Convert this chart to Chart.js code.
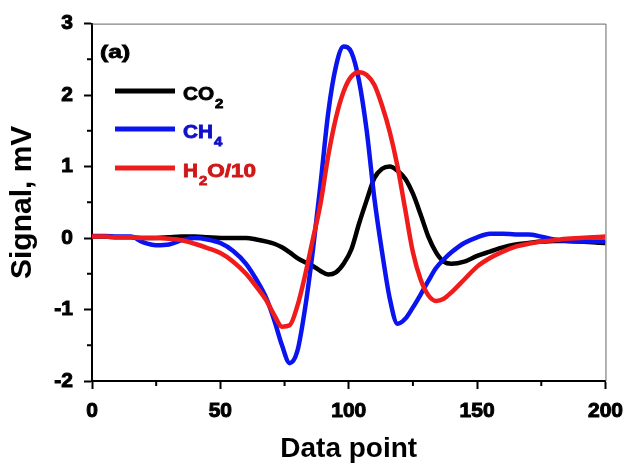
<!DOCTYPE html>
<html>
<head>
<meta charset="utf-8">
<script src="https://cdn.jsdelivr.net/npm/chart.js@4/dist/chart.umd.min.js"></script>
<style>
  html, body { margin: 0; padding: 0; background: #fff; }
  #wrap { width: 633px; height: 468px; }
</style>
</head>
<body>
<div id="wrap"><canvas id="chart" width="633" height="468"></canvas></div>
<script>
// data points (x = data point index)
const dataPoints = [0, 5, 10, 15, 20, 25, 30, 35, 40, 45, 50, 55, 60, 64, 68, 71, 74, 77, 80, 83,
  86, 89, 92, 95, 98, 101, 104, 107, 110, 113, 116, 119, 122, 125, 128, 131, 134, 137, 140, 145,
  150, 155, 160, 165, 170, 175, 180, 185, 190, 195, 200];

const co2 = [0.02, 0.02, 0.01, 0.01, 0.0, 0.0, 0.01, 0.02, 0.02, 0.01, 0.0, 0.0, 0.0, -0.02, -0.05,
  -0.08, -0.13, -0.2, -0.28, -0.34, -0.39, -0.46, -0.51, -0.48, -0.36, -0.16, 0.2, 0.53, 0.84, 0.97,
  1.0, 0.94, 0.83, 0.62, 0.33, 0.02, -0.2, -0.33, -0.36, -0.33, -0.25, -0.19, -0.13, -0.09, -0.07,
  -0.05, -0.04, -0.04, -0.05, -0.06, -0.07];

const ch4 = [0.03, 0.03, 0.02, 0.02, -0.06, -0.1, -0.09, -0.03, 0.0, -0.02, -0.07, -0.18, -0.36,
  -0.58, -0.85, -1.15, -1.5, -1.75, -1.58, -0.98, -0.18, 0.75, 1.75, 2.4, 2.68, 2.6, 2.2, 1.5, 0.55,
  -0.2, -0.85, -1.2, -1.13, -0.97, -0.79, -0.6, -0.42, -0.3, -0.2, -0.07, 0.01, 0.06, 0.06, 0.05,
  0.05, 0.02, -0.02, -0.04, -0.05, -0.05, -0.05];

const h2o = [0.02, 0.02, 0.01, 0.01, 0.0, 0.0, -0.01, -0.03, -0.08, -0.14, -0.21, -0.33, -0.5,
  -0.68, -0.88, -1.08, -1.24, -1.22, -0.95, -0.52, -0.02, 0.48, 1.15, 1.68, 2.05, 2.26, 2.32, 2.28,
  2.14, 1.85, 1.48, 1.0, 0.4, -0.2, -0.58, -0.8, -0.88, -0.85, -0.76, -0.58, -0.4, -0.28, -0.19,
  -0.12, -0.08, -0.05, -0.03, -0.01, 0.0, 0.01, 0.02];

const seriesNames = [["CO", "2", ""], ["CH", "4", ""], ["H", "2", "O/10"]];
const seriesColors = ["#000000", "#0a14ee", "#f01c1c"];
const textColors = ["#000000", "#1010c8", "#d01818"];
const panelLabel = "(a)";

const FONT = "'Liberation Sans', Arial, sans-serif";

function pts(ys) {
  return dataPoints.map((x, i) => ({ x: x, y: ys[i] }));
}

// wide heavy text, drawn with a horizontal stretch
function wideText(ctx, text, x, y, size, sx) {
  ctx.save();
  ctx.font = "bold " + size + "px " + FONT;
  ctx.translate(x, y);
  ctx.scale(sx, 1);
  ctx.strokeStyle = ctx.fillStyle;
  ctx.lineWidth = 0.8;
  ctx.fillText(text, 0, 0);
  ctx.strokeText(text, 0, 0);
  const w = ctx.measureText(text).width * sx;
  ctx.restore();
  return w;
}

// frame, minor ticks and the in-plot legend
const frameAndLegend = {
  id: "frameAndLegend",
  afterDraw(chart) {
    const { ctx, chartArea: a } = chart;
    const xs = chart.scales.x, ys = chart.scales.y;
    ctx.save();
    ctx.strokeStyle = "#666";
    ctx.lineWidth = 1;
    ctx.beginPath();
    ctx.moveTo(a.left, a.top + 0.5);
    ctx.lineTo(a.right + 0.5, a.top + 0.5);
    ctx.lineTo(a.right + 0.5, a.bottom);
    ctx.stroke();

    // short minor ticks
    ctx.strokeStyle = "#000";
    ctx.lineWidth = 2;
    ctx.beginPath();
    xs.ticks.forEach(t => {
      if (t.value % 50 !== 0) {
        const px = xs.getPixelForValue(t.value);
        ctx.moveTo(px, a.bottom);
        ctx.lineTo(px, a.bottom + 5);
      }
    });
    ys.ticks.forEach(t => {
      if (!Number.isInteger(t.value)) {
        const py = ys.getPixelForValue(t.value);
        ctx.moveTo(a.left, py);
        ctx.lineTo(a.left - 5, py);
      }
    });
    ctx.stroke();

    ctx.fillStyle = "#000";
    ctx.textBaseline = "alphabetic";
    wideText(ctx, panelLabel, 100, 58, 19, 1.3);

    const rows = [91, 129, 168];
    rows.forEach((y, i) => {
      ctx.strokeStyle = seriesColors[i];
      ctx.lineWidth = 5;
      ctx.lineCap = "butt";
      ctx.beginPath();
      ctx.moveTo(115, y);
      ctx.lineTo(175, y);
      ctx.stroke();

      const [main, sub, rest] = seriesNames[i];
      ctx.fillStyle = textColors[i];
      let x = 183;
      x += wideText(ctx, main, x, y + 9, 18, 1.15);
      x += wideText(ctx, sub, x + 1, y + 17, 13, 1.15) + 1;
      if (rest) wideText(ctx, rest, x, y + 9, 18, 1.25);
    });
    ctx.restore();
  }
};

const datasets = [co2, ch4, h2o].map((ys, i) => ({
  label: seriesNames[i].join(""),
  data: pts(ys),
  borderColor: seriesColors[i],
  borderWidth: 4.5,
  pointRadius: 0,
  tension: 0.4,
  cubicInterpolationMode: "monotone",
  fill: false,
  order: 3 - i
}));

const majorTickColor = (isMajor) => (ctx) => (ctx.tick && isMajor(ctx.tick.value) ? "#000" : "rgba(0,0,0,0)");

new Chart(document.getElementById("chart"), {
  type: "line",
  data: { datasets: datasets },
  options: {
    responsive: false,
    animation: false,
    layout: { padding: { left: 0, top: 22, right: 26, bottom: 0 } },
    plugins: { legend: { display: false }, tooltip: { enabled: false } },
    scales: {
      x: {
        type: "linear",
        min: 0,
        max: 200,
        afterFit(scale) { scale.height = 87; },
        ticks: {
          stepSize: 25,
          autoSkip: false,
          maxRotation: 0,
          color: "#000",
          textStrokeColor: "#000",
          textStrokeWidth: 1,
          padding: 10,
          font: { family: FONT, size: 21, weight: "bold" },
          callback: v => (v % 50 === 0 ? v : "")
        },
        grid: {
          drawOnChartArea: false, drawTicks: true, tickLength: 8, tickWidth: 2,
          tickColor: majorTickColor(v => v % 50 === 0)
        },
        border: { color: "#000", width: 2 },
        title: {
          display: true,
          text: "Data point",
          color: "#000",
          font: { family: FONT, size: 28, weight: "bold" },
          padding: { top: 0, bottom: 2 }
        }
      },
      y: {
        min: -2,
        max: 3,
        afterFit(scale) { scale.width = 92; },
        ticks: {
          stepSize: 0.5,
          autoSkip: false,
          color: "#000",
          textStrokeColor: "#000",
          textStrokeWidth: 1,
          padding: 11,
          font: { family: FONT, size: 21, weight: "bold" },
          callback: v => (Number.isInteger(v) ? v : "")
        },
        grid: {
          drawOnChartArea: false, drawTicks: true, tickLength: 8, tickWidth: 2,
          tickColor: majorTickColor(v => Number.isInteger(v))
        },
        border: { color: "#000", width: 2 },
        title: {
          display: true,
          text: "Signal, mV",
          color: "#000",
          font: { family: FONT, size: 30, weight: "bold" },
          padding: { top: 5, bottom: 0 }
        }
      }
    }
  },
  plugins: [frameAndLegend]
});
</script>
</body>
</html>
